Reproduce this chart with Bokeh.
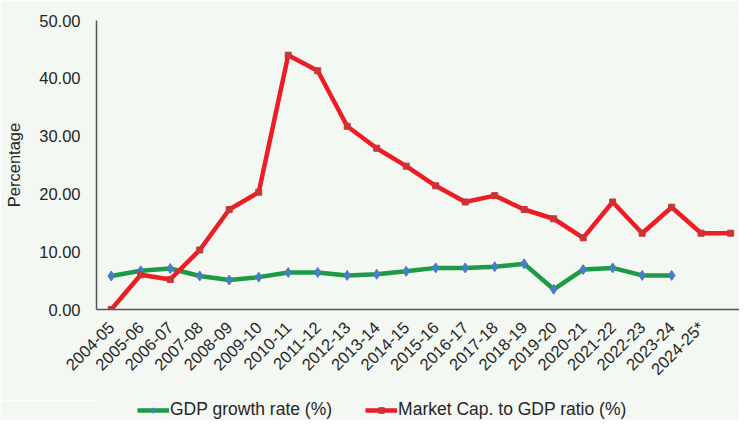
import math
from bokeh.plotting import figure
from bokeh.layouts import column
from bokeh.models import (Range1d, FixedTicker, NumeralTickFormatter, Legend, LegendItem,
                          ColumnDataSource)
from bokeh.embed import file_html
from bokeh.resources import INLINE

years = ["2004-05", "2005-06", "2006-07", "2007-08", "2008-09", "2009-10", "2010-11",
         "2011-12", "2012-13", "2013-14", "2014-15", "2015-16", "2016-17", "2017-18",
         "2018-19", "2019-20", "2020-21", "2021-22", "2022-23", "2023-24", "2024-25*"]
gdp_growth = [5.8, 6.7, 7.1, 5.8, 5.1, 5.6, 6.4, 6.4, 5.9, 6.1, 6.6, 7.2, 7.2, 7.4,
              7.9, 3.5, 6.9, 7.2, 5.9, 5.9]
market_cap_gdp = [0.0, 6.0, 5.2, 10.3, 17.3, 20.3, 44.0, 41.3, 31.7, 27.9, 24.8, 21.4,
                  18.6, 19.7, 17.3, 15.7, 12.4, 18.6, 13.2, 17.7, 13.2, 13.2]
y_ticks = [0, 10, 20, 30, 40, 50]
series_names = ["GDP growth rate (%)", "Market Cap. to GDP ratio (%)"]

BG = "#f4f8f2"
FONT = "Liberation Sans"
TXT = "#262626"
G_LINE, G_MARK = "#1c9a46", "#4a7dc6"
R_LINE, R_MARK = "#ee1c24", "#c9343a"

p = figure(width=739, height=400, output_backend="svg", toolbar_location=None,
           x_range=Range1d(-0.5, 21.3), y_range=Range1d(0, 50),
           min_border_left=96, min_border_right=0, min_border_top=20, min_border_bottom=91)
p.background_fill_color = BG
p.border_fill_color = BG
p.outline_line_color = None
p.xgrid.visible = False
p.ygrid.visible = False

gsrc = ColumnDataSource(dict(x=list(range(len(gdp_growth))), y=gdp_growth))
msrc = ColumnDataSource(dict(x=list(range(len(market_cap_gdp))), y=market_cap_gdp))


def draw_series(fig):
    a = fig.line("x", "y", source=gsrc, line_color=G_LINE, line_width=4.5)
    b = fig.scatter("x", "y", source=gsrc, marker="diamond", size=10,
                    fill_color=G_MARK, line_color=G_MARK)
    c = fig.line("x", "y", source=msrc, line_color=R_LINE, line_width=4.5)
    d = fig.scatter("x", "y", source=msrc, marker="square", size=6,
                    fill_color=R_MARK, line_color=R_MARK)
    return a, b, c, d


draw_series(p)

# axes
p.xaxis.ticker = FixedTicker(ticks=list(range(len(years))))
p.xaxis.major_label_overrides = {i: lab for i, lab in enumerate(years)}
p.xaxis.major_label_orientation = math.pi / 4
p.xaxis.major_tick_line_color = None
p.xaxis.minor_tick_line_color = None
p.xaxis.major_label_standoff = 9
p.xaxis.major_label_text_font = FONT
p.xaxis.major_label_text_font_size = "16.5px"
p.xaxis.major_label_text_color = TXT
p.xaxis.axis_line_color = "#555555"
p.xaxis.axis_line_width = 1.5

p.yaxis.ticker = FixedTicker(ticks=y_ticks)
p.yaxis.formatter = NumeralTickFormatter(format="0.00")
p.yaxis.major_tick_line_color = None
p.yaxis.minor_tick_line_color = None
p.yaxis.major_label_standoff = 10
p.yaxis.major_label_text_font = FONT
p.yaxis.major_label_text_font_size = "16.5px"
p.yaxis.major_label_text_color = TXT
p.yaxis.axis_line_color = "#555555"
p.yaxis.axis_line_width = 1.5
p.yaxis.axis_label = "Percentage"
p.yaxis.axis_label_text_font = FONT
p.yaxis.axis_label_text_font_style = "normal"
p.yaxis.axis_label_text_font_size = "16.5px"
p.yaxis.axis_label_text_color = TXT
p.yaxis.axis_label_standoff = 13

# legend strip below the chart (series drawn off-range; only their legend glyphs show)
lg = figure(width=739, height=20, output_backend="svg", toolbar_location=None,
            x_axis_type=None, y_axis_type=None,
            x_range=Range1d(-0.5, 21.3), y_range=Range1d(1000, 1001),
            min_border=0, min_border_left=0, min_border_right=0,
            min_border_top=0, min_border_bottom=0)
lg.background_fill_color = BG
lg.border_fill_color = BG
lg.outline_line_color = None
lg.xgrid.visible = False
lg.ygrid.visible = False
l1, s1, l2, s2 = draw_series(lg)

legend = Legend(items=[LegendItem(label=series_names[0], renderers=[l1, s1]),
                       LegendItem(label=series_names[1], renderers=[l2, s2])],
                orientation="horizontal", location=(41, 0),
                glyph_width=32, glyph_height=14, label_height=20, label_standoff=1,
                spacing=33, padding=0, margin=0,
                label_text_font=FONT, label_text_font_size="17.5px",
                label_text_color=TXT,
                background_fill_alpha=0, border_line_color=None)
lg.add_layout(legend, "center")

layout = column(p, lg, spacing=0)
open("out.html", "w").write(file_html(layout, INLINE))
